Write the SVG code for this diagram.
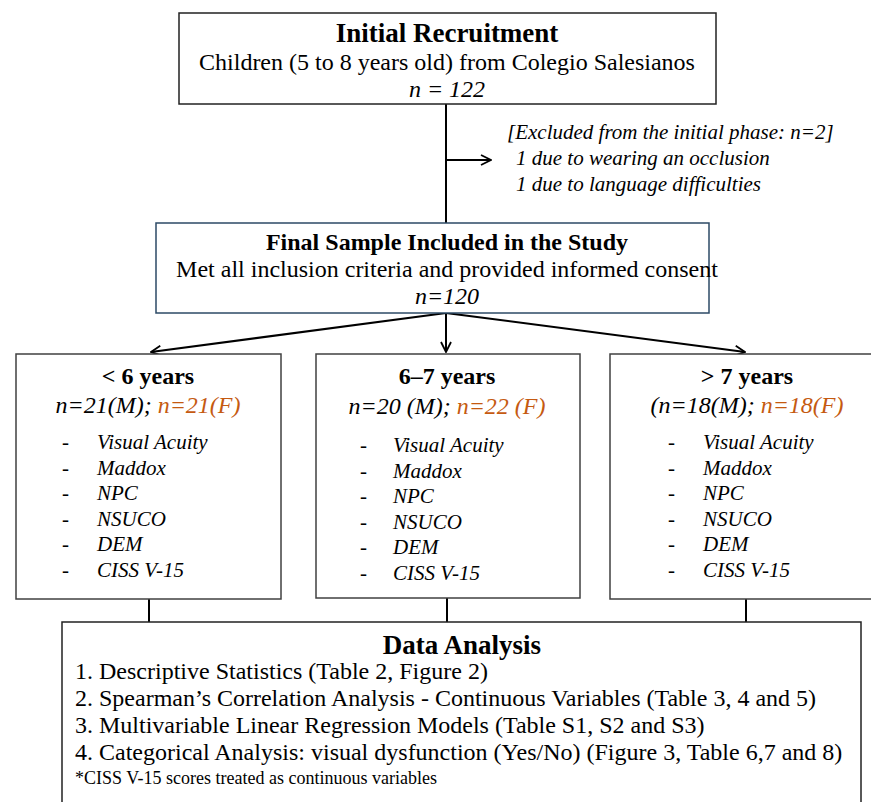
<svg xmlns="http://www.w3.org/2000/svg" width="871" height="802" viewBox="0 0 871 802">
<style>
text{font-family:"Liberation Serif","Times New Roman",serif;fill:#000}
.b{font-weight:bold}
.i{font-style:italic}
.o{fill:#c55a11}
.box{fill:#fff;stroke:#404040;stroke-width:1.5}
.line{fill:none;stroke:#000;stroke-width:2}
</style>
<defs>
<marker id="ah" viewBox="0 0 12 12" refX="11" refY="6" markerWidth="12" markerHeight="12" markerUnits="userSpaceOnUse" orient="auto">
<path d="M1,1 L11,6 L1,11" fill="none" stroke="#000" stroke-width="1.8"/>
</marker>
</defs>
<rect width="871" height="802" fill="#fff"/>
<g id="connectors">
<line class="line" x1="446" y1="104" x2="446" y2="223"/>
<line class="line" x1="446" y1="160" x2="491" y2="160" marker-end="url(#ah)"/>
<line class="line" x1="446" y1="313" x2="151" y2="352" marker-end="url(#ah)"/>
<line class="line" x1="446" y1="313" x2="446" y2="352" marker-end="url(#ah)"/>
<line class="line" x1="446" y1="313" x2="745" y2="352" marker-end="url(#ah)"/>
<line class="line" x1="149" y1="599" x2="149" y2="622"/>
<line class="line" x1="447" y1="598" x2="447" y2="622"/>
<line class="line" x1="746" y1="599" x2="746" y2="622"/>
</g>
<g id="initial">
<rect class="box" x="179" y="13" width="537" height="91" style="stroke:#222"/>
<text x="447" y="42" text-anchor="middle" class="b" font-size="27">Initial Recruitment</text>
<text x="447" y="70" text-anchor="middle" font-size="24">Children (5 to 8 years old) from Colegio Salesianos</text>
<text x="447" y="97" text-anchor="middle" class="i" font-size="24">n = 122</text>
</g>
<g id="excluded">
<text x="507" y="139" class="i" font-size="21">[Excluded from the initial phase: n=2]</text>
<text x="516" y="165" class="i" font-size="21">1 due to wearing an occlusion</text>
<text x="516" y="191" class="i" font-size="21">1 due to language difficulties</text>
</g>
<g id="final">
<rect class="box" x="156" y="223" width="553" height="90" style="stroke:#2c4a66"/>
<text x="447" y="250" text-anchor="middle" class="b" font-size="24">Final Sample Included in the Study</text>
<text x="447" y="277" text-anchor="middle" font-size="24">Met all inclusion criteria and provided informed consent</text>
<text x="447" y="304" text-anchor="middle" class="i" font-size="24">n=120</text>
</g>
<g id="group1">
<rect class="box" x="16" y="354" width="265" height="245"/>
<text x="148" y="384" text-anchor="middle" class="b" font-size="24">&lt; 6 years</text>
<text x="148" y="413" text-anchor="middle" class="i" font-size="24">n=21(M); <tspan class="o">n=21(F)</tspan></text>
<g class="i" font-size="21">
<text x="62" y="449">-</text><text x="97" y="449">Visual Acuity</text>
<text x="62" y="475">-</text><text x="97" y="475">Maddox</text>
<text x="62" y="500">-</text><text x="97" y="500">NPC</text>
<text x="62" y="526">-</text><text x="97" y="526">NSUCO</text>
<text x="62" y="551">-</text><text x="97" y="551">DEM</text>
<text x="62" y="577">-</text><text x="97" y="577">CISS V-15</text>
</g>
</g>
<g id="group2">
<rect class="box" x="316" y="354" width="264" height="244"/>
<text x="447" y="384" text-anchor="middle" class="b" font-size="24">6–7 years</text>
<text x="447" y="414" text-anchor="middle" class="i" font-size="24">n=20 (M); <tspan class="o">n=22 (F)</tspan></text>
<g class="i" font-size="21">
<text x="360" y="452">-</text><text x="393" y="452">Visual Acuity</text>
<text x="360" y="478">-</text><text x="393" y="478">Maddox</text>
<text x="360" y="503">-</text><text x="393" y="503">NPC</text>
<text x="360" y="529">-</text><text x="393" y="529">NSUCO</text>
<text x="360" y="554">-</text><text x="393" y="554">DEM</text>
<text x="360" y="580">-</text><text x="393" y="580">CISS V-15</text>
</g>
</g>
<g id="group3">
<rect class="box" x="610" y="354" width="263" height="245"/>
<text x="747" y="384" text-anchor="middle" class="b" font-size="24">&gt; 7 years</text>
<text x="747" y="413" text-anchor="middle" class="i" font-size="24">(n=18(M); <tspan class="o">n=18(F)</tspan></text>
<g class="i" font-size="21">
<text x="668" y="449">-</text><text x="703" y="449">Visual Acuity</text>
<text x="668" y="475">-</text><text x="703" y="475">Maddox</text>
<text x="668" y="500">-</text><text x="703" y="500">NPC</text>
<text x="668" y="526">-</text><text x="703" y="526">NSUCO</text>
<text x="668" y="551">-</text><text x="703" y="551">DEM</text>
<text x="668" y="577">-</text><text x="703" y="577">CISS V-15</text>
</g>
</g>
<g id="analysis">
<rect class="box" x="62" y="622" width="799" height="190" style="stroke:#222"/>
<text x="462" y="654" text-anchor="middle" class="b" font-size="27">Data Analysis</text>
<g font-size="24">
<text x="75" y="679">1. Descriptive Statistics (Table 2, Figure 2)</text>
<text x="75" y="706">2. Spearman’s Correlation Analysis - Continuous Variables (Table 3, 4 and 5)</text>
<text x="75" y="733">3. Multivariable Linear Regression Models (Table S1, S2 and S3)</text>
<text x="75" y="760">4. Categorical Analysis: visual dysfunction (Yes/No) (Figure 3, Table 6,7 and 8)</text>
</g>
<text x="75" y="784" font-size="18">*CISS V-15 scores treated as continuous variables</text>
</g>
</svg>
